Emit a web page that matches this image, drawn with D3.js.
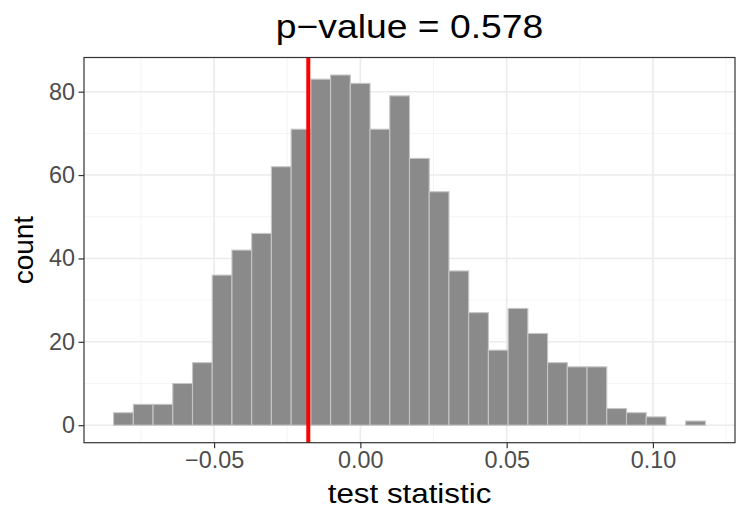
<!DOCTYPE html>
<html>
<head>
<meta charset="utf-8">
<script src="https://cdn.jsdelivr.net/npm/d3@7/dist/d3.min.js"></script>
<style>
  html, body { margin: 0; padding: 0; background: #fff; }
  svg { display: block; font-family: "Liberation Sans", Arial, sans-serif; }
</style>
</head>
<body>
<svg id="chart" width="747" height="523"></svg>
<script>
// ---- data ----
const binStart = -0.08435;
const binWidth = 0.006743;
const counts = [3, 5, 5, 10, 15, 36, 42, 46, 62, 71,
                83, 84, 82, 71, 79, 64, 56, 37, 27, 18,
                28, 22, 15, 14, 14, 4, 3, 2, 0, 1];
const observedStat = -0.0178;
const xTicks = [-0.05, 0.00, 0.05, 0.10];
const xTickLabels = ["\u22120.05", "0.00", "0.05", "0.10"];
const xMinorTicks = [-0.075, -0.025, 0.025, 0.075, 0.125];
const yTicks = [0, 20, 40, 60, 80];
const yMinorTicks = [10, 30, 50, 70];
const titleText = "p\u2212value = 0.578";
const xLabel = "test statistic";
const yLabel = "count";

// ---- layout ----
const W = 747, H = 523;
const panel = { left: 84, right: 735, top: 57.5, bottom: 442.7 };

const bins = counts.map((c, i) => ({ x0: binStart + i * binWidth, x1: binStart + (i + 1) * binWidth, count: c }));
const dataMin = bins[0].x0, dataMax = bins[bins.length - 1].x1;
const xPad = (dataMax - dataMin) * 0.05;
const yMax = d3.max(counts), yPad = yMax * 0.05;

const x = d3.scaleLinear().domain([dataMin - xPad, dataMax + xPad]).range([panel.left, panel.right]);
const y = d3.scaleLinear().domain([-yPad, yMax + yPad]).range([panel.bottom, panel.top]);

const svg = d3.select("#chart");

svg.append("rect").attr("x", panel.left).attr("y", panel.top)
  .attr("width", panel.right - panel.left).attr("height", panel.bottom - panel.top)
  .attr("fill", "#fff");

const grid = svg.append("g");
grid.selectAll(".xminor").data(xMinorTicks).join("line")
  .attr("x1", d => x(d)).attr("x2", d => x(d)).attr("y1", panel.top).attr("y2", panel.bottom)
  .attr("stroke", "#f4f4f4").attr("stroke-width", 1);
grid.selectAll(".yminor").data(yMinorTicks).join("line")
  .attr("y1", d => y(d)).attr("y2", d => y(d)).attr("x1", panel.left).attr("x2", panel.right)
  .attr("stroke", "#f4f4f4").attr("stroke-width", 1);
grid.selectAll(".xmajor").data(xTicks).join("line")
  .attr("x1", d => x(d)).attr("x2", d => x(d)).attr("y1", panel.top).attr("y2", panel.bottom)
  .attr("stroke", "#ebebeb").attr("stroke-width", 1.6);
grid.selectAll(".ymajor").data(yTicks).join("line")
  .attr("y1", d => y(d)).attr("y2", d => y(d)).attr("x1", panel.left).attr("x2", panel.right)
  .attr("stroke", "#ebebeb").attr("stroke-width", 1.6);

// bars
svg.append("g").selectAll("rect").data(bins).join("rect")
  .attr("x", d => x(d.x0)).attr("width", d => x(d.x1) - x(d.x0))
  .attr("y", d => y(d.count)).attr("height", d => y(0) - y(d.count))
  .attr("fill", "#8a8a8a").attr("stroke", "#c6c6c6").attr("stroke-width", 1.1);

// observed line
svg.append("line")
  .attr("x1", x(observedStat)).attr("x2", x(observedStat))
  .attr("y1", panel.top).attr("y2", panel.bottom)
  .attr("stroke", "#ff0000").attr("stroke-width", 4);

// panel border
svg.append("rect").attr("x", panel.left).attr("y", panel.top)
  .attr("width", panel.right - panel.left).attr("height", panel.bottom - panel.top)
  .attr("fill", "none").attr("stroke", "#333333").attr("stroke-width", 1.2);

// axes
const xAxis = d3.axisBottom(x).tickValues(xTicks).tickFormat((d, i) => xTickLabels[i]).tickSize(5.5).tickPadding(3.5);
const gx = svg.append("g").attr("transform", `translate(0,${panel.bottom})`).call(xAxis);
gx.select(".domain").remove();
gx.selectAll(".tick line").attr("stroke", "#333333").attr("stroke-width", 1.2);
gx.selectAll(".tick text").attr("fill", "#4d4d4d").style("font-size", "23.4px")
  .style("font-family", "'Liberation Sans', Arial, sans-serif");

const yAxis = d3.axisLeft(y).tickValues(yTicks).tickSize(5.5).tickPadding(3.5);
const gy = svg.append("g").attr("transform", `translate(${panel.left},0)`).call(yAxis);
gy.select(".domain").remove();
gy.selectAll(".tick line").attr("stroke", "#333333").attr("stroke-width", 1.2);
gy.selectAll(".tick text").attr("fill", "#4d4d4d").style("font-size", "23.4px")
  .style("font-family", "'Liberation Sans', Arial, sans-serif");

// titles
const cx = (panel.left + panel.right) / 2;
svg.append("text").attr("transform", `translate(${cx},38) scale(1.11,1)`)
  .attr("text-anchor", "middle").style("font-size", "33.6px").attr("fill", "#000").text(titleText);
svg.append("text").attr("transform", `translate(${cx},503) scale(1.1,1)`)
  .attr("text-anchor", "middle").style("font-size", "28.5px").attr("fill", "#000").text(xLabel);
svg.append("text").attr("transform", `translate(33,${(panel.top + panel.bottom) / 2}) rotate(-90)`)
  .attr("text-anchor", "middle").style("font-size", "28px").attr("fill", "#000").text(yLabel);
</script>
</body>
</html>
